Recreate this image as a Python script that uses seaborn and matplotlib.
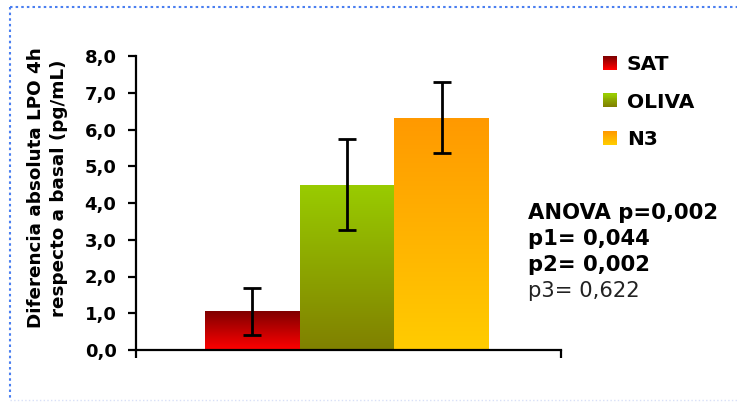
import numpy as np
import pandas as pd
import matplotlib
matplotlib.use('Agg')
import matplotlib.pyplot as plt
import seaborn as sns
from matplotlib.colors import LinearSegmentedColormap
from matplotlib.patches import Rectangle, Patch
from matplotlib.lines import Line2D
from matplotlib.legend_handler import HandlerBase

# data
groups = ['SAT', 'OLIVA', 'N3']
means = [1.05, 4.50, 6.32]
errors = [0.65, 1.23, 0.97]
ytick_vals = [0, 1, 2, 3, 4, 5, 6, 7, 8]
ytick_labels = ['0,0', '1,0', '2,0', '3,0', '4,0', '5,0', '6,0', '7,0', '8,0']
stats_lines = ['ANOVA p=0,002', 'p1= 0,044', 'p2= 0,002', 'p3= 0,622']
ylabel = 'Diferencia absoluta LPO 4h\nrespecto a basal (pg/mL)'

# gradient colours per bar (top, bottom)
grad_top = ['#800000', '#99CC00', '#FF9900']
grad_bottom = ['#FF0000', '#808000', '#FFCC00']

df = pd.DataFrame({'grupo': groups, 'valor': means})

sns.set_theme(style='white')
plt.rcParams['font.family'] = ['DejaVu Sans']
plt.rcParams['text.color'] = 'black'
plt.rcParams['ytick.color'] = 'black'
plt.rcParams['xtick.color'] = 'black'

fig = plt.figure(figsize=(7.37, 4.03), dpi=100)
W, H = 737, 403
ax = fig.add_axes([136 / W, (H - 350) / H, (561 - 136) / W, (350 - 56) / H])

sns.barplot(data=df, x='grupo', y='valor', hue='grupo', palette=grad_top,
            width=1.0, linewidth=0, legend=False, ax=ax)

# gradient fill clipped to each bar
for patch, top, bot in zip(ax.patches, grad_top, grad_bottom):
    x0, y0 = patch.get_x(), patch.get_y()
    w, h = patch.get_width(), patch.get_height()
    cmap = LinearSegmentedColormap.from_list('g', [bot, top])
    grad = np.linspace(0, 1, 256).reshape(-1, 1)
    im = ax.imshow(grad, cmap=cmap, aspect='auto', origin='lower',
                   extent=[x0, x0 + w, y0, y0 + h], zorder=patch.get_zorder() + 0.1)
    im.set_clip_path(patch)

ax.errorbar(np.arange(len(groups)), means, yerr=errors, fmt='none',
            ecolor='black', elinewidth=2, capsize=6.5, capthick=2, zorder=5)

xl = (-1.226, 3.258)
ax.set_xlim(*xl)
ax.set_ylim(0, 8)
ax.set_xticks(list(xl))
ax.set_xticklabels(['', ''])
ax.set_yticks(ytick_vals)
ax.set_yticklabels(ytick_labels, fontweight='bold', fontsize=13, color='black')
ax.tick_params(axis='y', direction='out', length=6, width=1.6, pad=8, left=True, color='black')
ax.tick_params(axis='x', direction='out', length=6, width=1.6, bottom=True, color='black')
sns.despine(ax=ax)
for s in ['left', 'bottom']:
    ax.spines[s].set_color('black')
    ax.spines[s].set_linewidth(1.6)
ax.set_xlabel('')
ax.set_ylabel('')
ax.patch.set_alpha(0)

fig.text(47.5 / W, 1 - 188 / H, ylabel, rotation=90, ha='center', va='center',
         fontsize=13.2, fontweight='bold', linespacing=1.35, multialignment='center',
         color='black')


class GradientHandler(HandlerBase):
    def __init__(self, top, bottom, n=14):
        super().__init__()
        self.top, self.bottom, self.n = top, bottom, n

    def create_artists(self, legend, orig_handle, xdescent, ydescent, width, height, fontsize, trans):
        cmap = LinearSegmentedColormap.from_list('h', [self.bottom, self.top])
        arts = []
        for i in range(self.n):
            arts.append(Rectangle((-xdescent, -ydescent + i * height / self.n), width, height / self.n + 0.3,
                                  facecolor=cmap(i / (self.n - 1)), edgecolor='none', transform=trans))
        return arts


handles = [Patch(label=g) for g in groups]
hmap = {h: GradientHandler(t, b) for h, t, b in zip(handles, grad_top, grad_bottom)}
leg = fig.legend(handles=handles, handler_map=hmap, loc='upper left',
                 bbox_to_anchor=(603 / W, 1 - 55 / H), frameon=False, borderpad=0, borderaxespad=0,
                 handlelength=0.68, handleheight=0.68, handletextpad=0.5, labelspacing=0.92,
                 prop={'weight': 'bold', 'size': 14.5})
for t in leg.get_texts():
    t.set_color('black')

ys = [219, 245, 271, 297]
for txt, yb in zip(stats_lines, ys):
    bold = not txt.startswith('p3')
    fig.text(528 / W, 1 - yb / H, txt, ha='left', va='baseline', fontsize=15.2,
             fontweight='bold' if bold else 'normal', color='black' if bold else '#222222')

# dotted frame
frame_kw = dict(color='#4A7FF0', lw=1.5, ls=(0, (1.2, 1.5)))
fig.add_artist(Line2D([10 / W, 1.0], [1 - 7 / H, 1 - 7 / H], **frame_kw))
fig.add_artist(Line2D([10 / W, 10 / W], [1 - 7 / H, 1 - 400 / H], **frame_kw))
fig.add_artist(Line2D([10 / W, 1.0], [1 - 400 / H, 1 - 400 / H], color='#D8E0F7', lw=1, ls=':'))

fig.savefig('out.png', dpi=100, facecolor='white')
